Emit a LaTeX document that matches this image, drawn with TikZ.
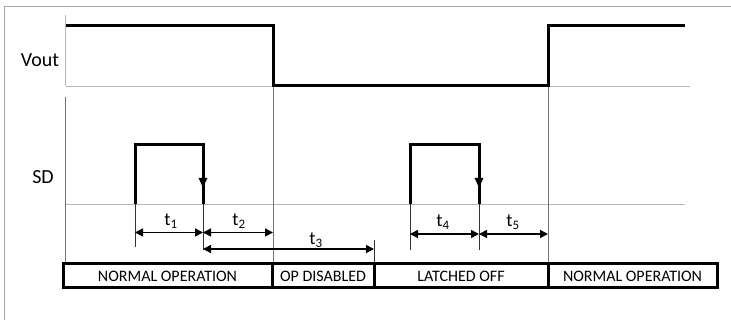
\documentclass[tikz,border=0pt]{standalone}
\usepackage{fontspec}
\setmainfont{Carlito}
\usetikzlibrary{arrows.meta}
\begin{document}
\begin{tikzpicture}[x=1pt,y=-1pt,
  wave/.style={line width=3pt, line join=miter},
  gridline/.style={draw=black!28, line width=0.9pt},
  divline/.style={draw=black!55, line width=0.9pt},
  extline/.style={draw=black!80, line width=0.8pt},
  dimline/.style={line width=1.5pt, {Triangle[length=8pt,width=8pt]}-{Triangle[length=8pt,width=8pt]}},
  fallarrow/.style={line width=3pt, -{Triangle[length=10pt,width=8pt]}},
  seg/.style={draw, line width=3pt, minimum height=24pt, inner sep=0pt, font=\fontsize{16}{19}\selectfont},
  sig/.style={font=\fontsize{20}{24}\selectfont, inner sep=0pt},
  tlab/.style={font=\fontsize{18.5}{22}\selectfont, inner sep=0pt}
]
\useasboundingbox (0,0) rectangle (731,320);
% frame
\draw[draw=black!35, line width=1pt] (4.5,320) -- (4.5,6.5) -- (731,6.5);

% key points
\coordinate (ax1) at (65.5,15);
\coordinate (ax2) at (65.5,86);
\coordinate (ax3) at (65.5,97);
\coordinate (ax4) at (65.5,264);
\coordinate (vb0) at (66,86);
\coordinate (vb1) at (690,86);
\coordinate (sb0) at (66,204.5);
\coordinate (sb1) at (685,204.5);

% axis
\draw[gridline] (ax1) -- (ax2);
\draw[divline] (ax3) -- (ax4);
% baselines
\draw[gridline] (vb0) -- (vb1);
\draw[gridline] (sb0) -- (sb1);

% dividers
\coordinate (d1t) at (273,86);
\coordinate (d1b) at (273,264);
\coordinate (d2t) at (548,86);
\coordinate (d2b) at (548,264);
\draw[divline] (d1t) -- (d1b);
\draw[divline] (d2t) -- (d2b);

% Vout waveform
\draw[wave] (66,26) -- (273,26) -- (273,86) -- (548,86) -- (548,26) -- (685,26);

% SD pulses
\draw[wave] (135,204.5) -- (135,145) -- (203,145) -- (203,204.5);
\draw[wave] (410,204.5) -- (410,145) -- (479,145) -- (479,204.5);
\coordinate (fa0) at (203,170);
\coordinate (fa1) at (203,188);
\coordinate (fb0) at (479,170);
\coordinate (fb1) at (479,188);
\draw[fallarrow] (fa0) -- (fa1);
\draw[fallarrow] (fb0) -- (fb1);

% extension lines
\coordinate (e1t) at (135,204.5); \coordinate (e1b) at (135,247);
\coordinate (e2t) at (203,204.5); \coordinate (e2b) at (203,250);
\coordinate (e3t) at (374,240);   \coordinate (e3b) at (374,264);
\coordinate (e4t) at (410,204.5); \coordinate (e4b) at (410,250);
\coordinate (e5t) at (479,204.5); \coordinate (e5b) at (479,250);
\draw[extline] (e1t) -- (e1b);
\draw[extline] (e2t) -- (e2b);
\draw[extline] (e3t) -- (e3b);
\draw[extline] (e4t) -- (e4b);
\draw[extline] (e5t) -- (e5b);

% dimension arrows
\coordinate (t1a) at (135,232.5); \coordinate (t1b) at (203,232.5);
\coordinate (t2b) at (273,232.5);
\coordinate (t3a) at (203,249);   \coordinate (t3b) at (374,249);
\coordinate (t4a) at (410,234);   \coordinate (t4b) at (479,234);
\coordinate (t5b) at (548,234);
\draw[dimline] (t1a) -- (t1b);
\draw[dimline] (t1b) -- (t2b);
\draw[dimline] (t3a) -- (t3b);
\draw[dimline] (t4a) -- (t4b);
\draw[dimline] (t4b) -- (t5b);

% time labels
\node[tlab] (lt1) at (171,221) {t\textsubscript{1}};
\node[tlab] (lt2) at (239,221) {t\textsubscript{2}};
\node[tlab] (lt3) at (316,240) {t\textsubscript{3}};
\node[tlab] (lt4) at (443,222) {t\textsubscript{4}};
\node[tlab] (lt5) at (513,222) {t\textsubscript{5}};

% signal labels
\node[sig] (vout) at (40,60) {Vout};
\node[sig] (sd) at (43,177) {SD};

% state bar
\node[seg, minimum width=209pt] (s1) at (167.5,276) {NORMAL OPERATION};
\node[seg, minimum width=102pt] (s2) at (323,276) {OP DISABLED};
\node[seg, minimum width=174pt] (s3) at (461,276) {LATCHED OFF};
\node[seg, minimum width=169pt] (s4) at (632.5,276) {NORMAL OPERATION};
\end{tikzpicture}
\end{document}
